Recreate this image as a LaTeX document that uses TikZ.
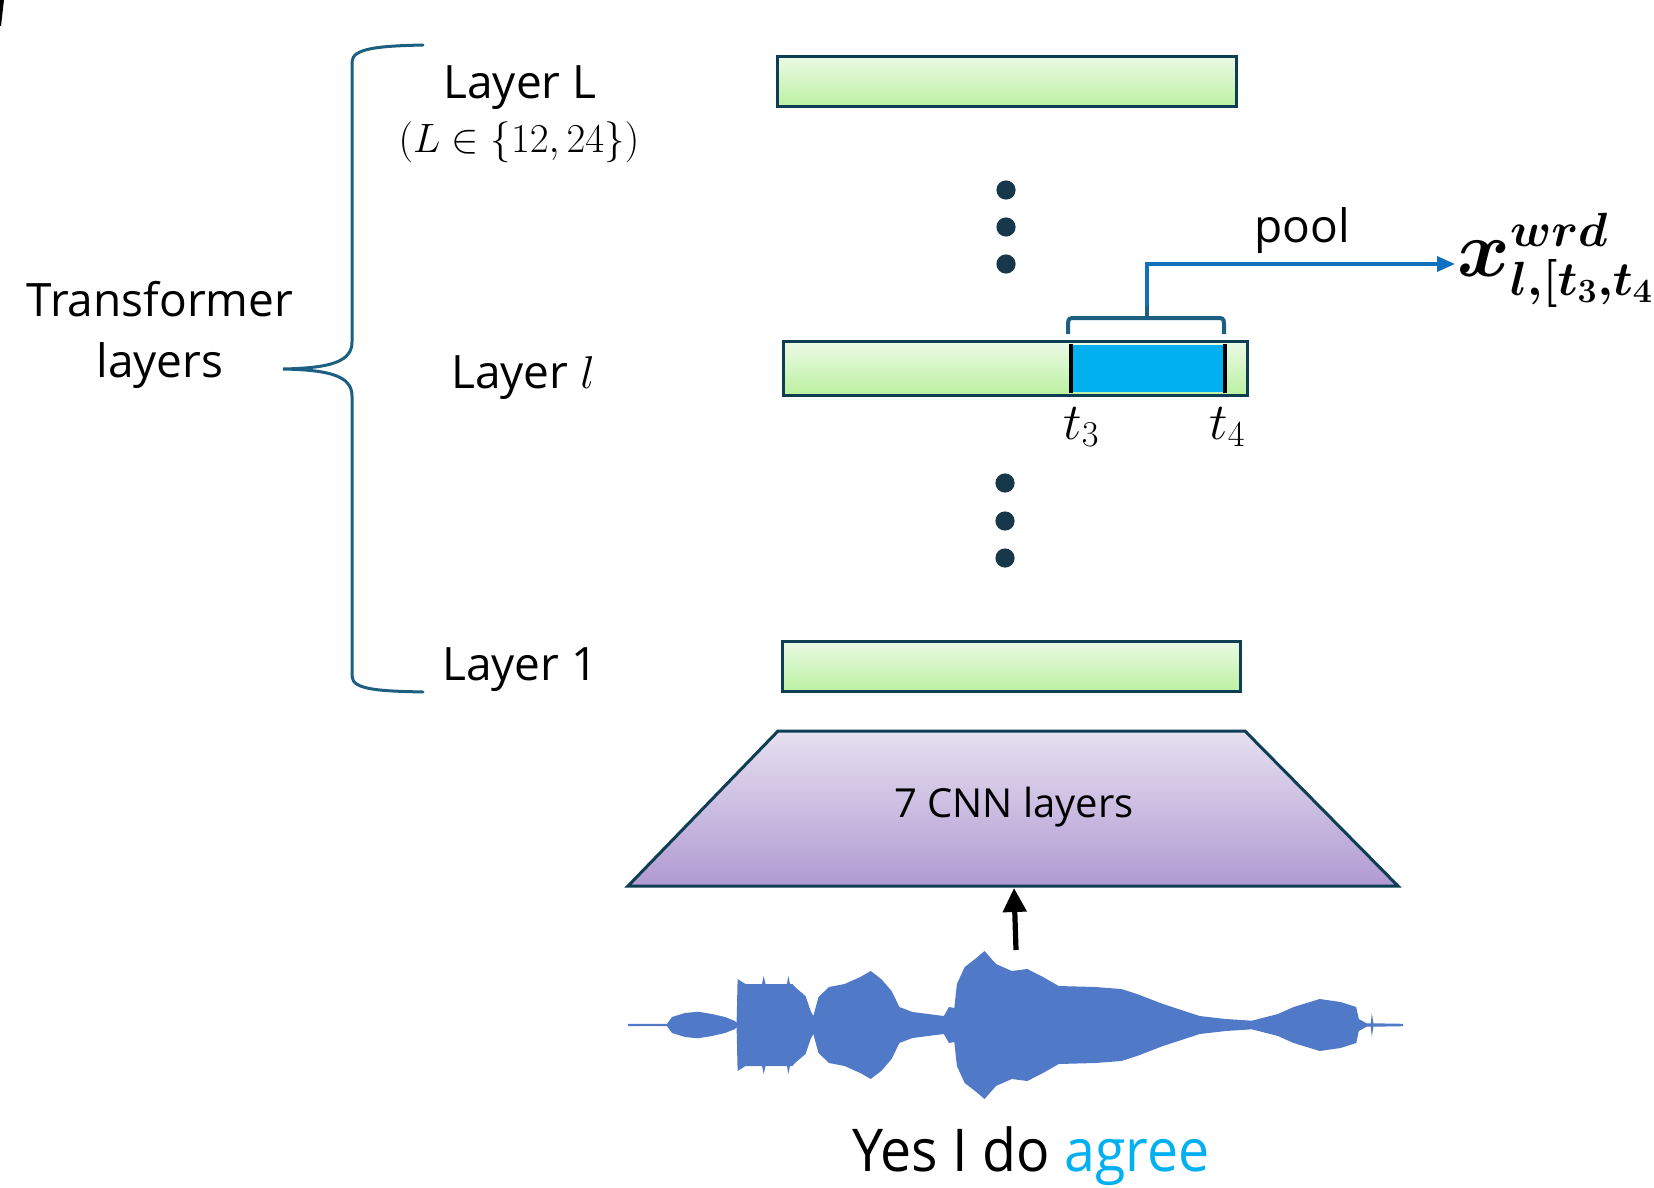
\RequirePackage{fix-cm}
\documentclass[tikz,border=0pt]{standalone}
\usepackage{amsmath}
\usepackage{fontspec}
\setmainfont{Open Sans}
\DeclareMathSizes{40}{40}{24}{17}
\usetikzlibrary{arrows.meta}
\definecolor{greentop}{RGB}{234,250,228}
\definecolor{greenbot}{RGB}{188,241,162}
\definecolor{purptop}{RGB}{230,224,240}
\definecolor{purpbot}{RGB}{176,154,210}
\definecolor{borderc}{RGB}{14,62,84}
\definecolor{dotc}{RGB}{23,55,75}
\definecolor{bracec}{RGB}{28,95,128}
\definecolor{poolc}{RGB}{16,112,192}
\definecolor{agreec}{RGB}{0,176,240}
\definecolor{wavec}{RGB}{80,122,200}
\definecolor{segc}{RGB}{0,176,240}
\tikzset{
  bar/.style={draw=borderc, line width=1.5pt, top color=greentop, bottom color=greenbot, inner sep=0pt},
  lbl/.style={font=\fontsize{23}{28}\selectfont, inner sep=0pt},
  dotmark/.style={fill=dotc, draw=none},
  bracestyle/.style={draw=bracec, line width=1.5pt, line cap=round},
}
\begin{document}
\begin{tikzpicture}[x=0.5pt,y=-0.5pt]
\useasboundingbox (0,0) rectangle (1654,1188);
% corner artifact
\fill[black] (0,0) -- (4,0) -- (1,26) -- (0,26) -- cycle;

% left brace
\draw[bracestyle] (423,45) .. controls (380,46) and (352,48) .. (352,62)
  -- (352,342) .. controls (352,362) and (330,368) .. (283,369)
  .. controls (330,370) and (352,376) .. (352,396)
  -- (352,676) .. controls (352,690) and (380,691) .. (423,692);
\node[lbl, anchor=base] (tr1) at (160,316) {Transformer};
\node[lbl, anchor=base] (tr2) at (160,377) {layers};

% labels
\node[lbl, anchor=base] (lL) at (520,98) {Layer L};
\node[anchor=base, inner sep=0pt, font=\fontsize{20.5}{24}\selectfont] (lLset) at (519,153) {$(L\in\{12,24\})$};
\node[lbl, anchor=base] (ll) at (523,388) {Layer $l$};
\node[lbl, anchor=base] (l1) at (520,680) {Layer 1};

% bars
\node[bar, minimum width=229.5pt, minimum height=25pt] (barL) at (1006.5,82) {};
\node[bar, minimum width=230.5pt, minimum height=25.5pt, draw=none] (barl) at (1015.5,368.5) {};
\fill[segc] (1071,345) rectangle (1225,392);
\draw[draw=borderc, line width=1.5pt] (barl.north west) rectangle (barl.south east);
\draw[black, line width=2.3pt] (1071,344) -- (1071,393);
\draw[black, line width=2.3pt] (1225,344) -- (1225,393);
\node[bar, minimum width=229pt, minimum height=25pt] (bar1) at (1011,666) {};

% dots
\foreach \yy in {190,227,264} \fill[dotmark] (1006,\yy) circle (4.8pt);
\foreach \yy in {483,521,558} \fill[dotmark] (1005,\yy) circle (4.8pt);

% t3 t4
\node[anchor=base west, inner sep=0pt, font=\fontsize{26}{32}\selectfont] (t3) at (1063,439) {$t_3$};
\node[anchor=base west, inner sep=0pt, font=\fontsize{26}{32}\selectfont] (t4) at (1209,439) {$t_4$};

% small brace and pool arrow
\coordinate (tick) at (1147,306);
\draw[bracestyle, line width=2pt, line cap=butt] (1068,334) -- (1068,324) .. controls (1068,318) and (1070,318) .. (1075,318)
  -- (1217,318) .. controls (1222,318) and (1224,318) .. (1224,324) -- (1224,334);
\draw[bracestyle, line width=2pt, line cap=butt] (1147,318) -- (tick);
\coordinate (pooltip) at (1455,264);
\draw[poolc, line width=1.7pt, -{Triangle[length=9pt,width=7.5pt]}] (tick) |- (pooltip);
\node[lbl, anchor=base] (pool) at (1302,242) {pool};
\begin{scope}
\clip (0,0) rectangle (1654,1188);
\node[anchor=base west, inner sep=0pt, font=\fontsize{40}{46}\selectfont] (xw) at (1457,276)
  {$\boldsymbol{x}^{\boldsymbol{wrd}}_{\boldsymbol{l,[t_3,t_4]}}$};
\end{scope}

% CNN trapezoid
\shade[draw=borderc, line width=1.5pt, top color=purptop, bottom color=purpbot, line join=miter]
  (778,731) -- (1245,731) -- (1398,886) -- (628,886) -- cycle;
\node[inner sep=0pt, anchor=base, font=\fontsize{20}{24}\selectfont] (cnn) at (1014,817) {7 CNN layers};
\coordinate (cnnbot) at (1014,888);

% waveform
\foreach \s in {1,-1}{
\begin{scope}[shift={(0,1025)},yscale=\s]
\fill[wavec] (628,0) -- (628,-1.2) -- (667,-1.2) -- (672,-8) -- (685,-12) -- (698,-13.3) -- (712,-11) -- (725,-8)
 -- (735,-4) -- (736.6,-2) -- (737.6,-46) -- (745.5,-41) -- (762,-41) -- (763.7,-49) -- (765.5,-41)
 -- (787,-41) -- (788.3,-49) -- (790,-41) -- (792.4,-41) -- (795,-38) -- (805.5,-29) -- (810.7,-14)
 -- (813.3,-9) -- (818.5,-28) -- (829,-38) -- (844.6,-41) -- (860.3,-48) -- (870.7,-54) -- (881.2,-46)
 -- (891.6,-34) -- (899.4,-18) -- (912.5,-13) -- (943.8,-9) -- (949,-18) -- (954.3,-17) -- (956.9,-41)
 -- (964.7,-58) -- (975.1,-66) -- (984.5,-74) -- (996,-61) -- (1011.7,-54) -- (1027.3,-56) -- (1043,-48)
 -- (1058.7,-39) -- (1095.2,-38) -- (1121.3,-36) -- (1137,-31) -- (1163,-21) -- (1199.6,-9) -- (1225.7,-6)
 -- (1251.8,-4.3) -- (1277.9,-11) -- (1293.6,-18) -- (1319.7,-26) -- (1340.5,-23) -- (1356.2,-18)
 -- (1358.8,-6) -- (1366.6,-1.7) -- (1370.8,-1.7) -- (1371.8,-12) -- (1373.4,-1.7) -- (1403,-1.2) -- (1403,0) -- cycle;
\end{scope}}
\coordinate (wavetop) at (1016,950);
\draw[black, line width=2.6pt, -{Triangle[length=12pt,width=11.5pt]}] (wavetop) -- (cnnbot);

% sentence
\node[anchor=base west, inner sep=0pt, font=\fontsize{29.5}{34}\selectfont] (sent) at (852,1171)
  {\scalebox{0.94}[1]{Yes I do \textcolor{agreec}{agree}}};
\end{tikzpicture}
\end{document}
